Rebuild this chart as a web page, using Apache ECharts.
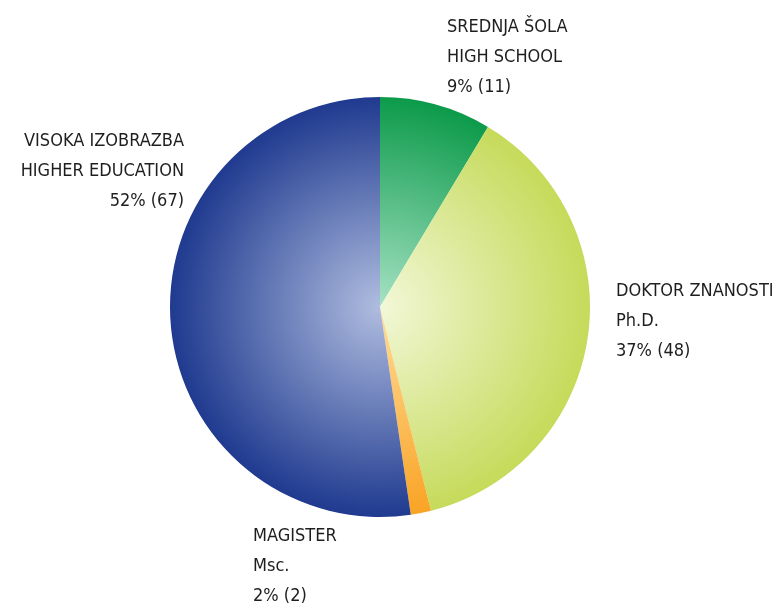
<!DOCTYPE html>
<html>
<head>
<meta charset="utf-8">
<script src="https://cdn.jsdelivr.net/npm/echarts@6/dist/echarts.min.js"></script>
<style>
  html, body { margin: 0; padding: 0; background: #fff; }
  #chart-box { width: 778px; height: 607px; }
</style>
</head>
<body>
<div id="chart-box"></div>
<script>
// podatki
const names = ['SREDNJA ŠOLA', 'DOKTOR ZNANOSTI', 'MAGISTER', 'VISOKA IZOBRAZBA']
const namesEn = ['HIGH SCHOOL', 'Ph.D.', 'Msc.', 'HIGHER EDUCATION']
const values = [11, 48, 2, 67]
const percents = ['9%', '37%', '2%', '52%']

const innerColors = ['#a6e2c4', '#f2f8d8', '#ffdc9a', '#b0bde0']
const outerColors = ['#0c9a4a', '#c6da5a', '#f9a425', '#1f3a8f']

// label positions (x, y, align)
const labelPos = [
    [447, 12, 'left'],
    [616, 276, 'left'],
    [253, 521, 'left'],
    [184, 126, 'right']
]

const cx = 380, cy = 307, rad = 210

let chart = echarts.init(document.getElementById('chart-box'))
chart.setOption({
    animation: false,
    series: [{
        type: 'pie',
        center: [cx, cy],
        radius: rad,
        startAngle: 90,
        clockwise: true,
        avoidLabelOverlap: false,
        labelLine: {show: false},
        label: {
            show: true,
            position: 'outside',
            fontFamily: 'DejaVu Sans Condensed, DejaVu Sans',
            fontSize: 18,
            lineHeight: 30,
            color: '#1e1e1e',
            formatter: p => names[p.dataIndex] + '\n' + namesEn[p.dataIndex] + '\n' +
                percents[p.dataIndex] + ' (' + values[p.dataIndex] + ')'
        },
        labelLayout: p => ({
            x: labelPos[p.dataIndex][0],
            y: labelPos[p.dataIndex][1],
            align: labelPos[p.dataIndex][2],
            verticalAlign: 'top'
        }),
        data: values.map((v, i) => ({
            value: v,
            name: names[i],
            itemStyle: {
                color: {
                    type: 'radial', x: cx, y: cy, r: rad, global: true,
                    colorStops: [
                        {offset: 0, color: innerColors[i]},
                        {offset: 1, color: outerColors[i]}
                    ]
                }
            }
        }))
    }]
})
</script>
</body>
</html>
